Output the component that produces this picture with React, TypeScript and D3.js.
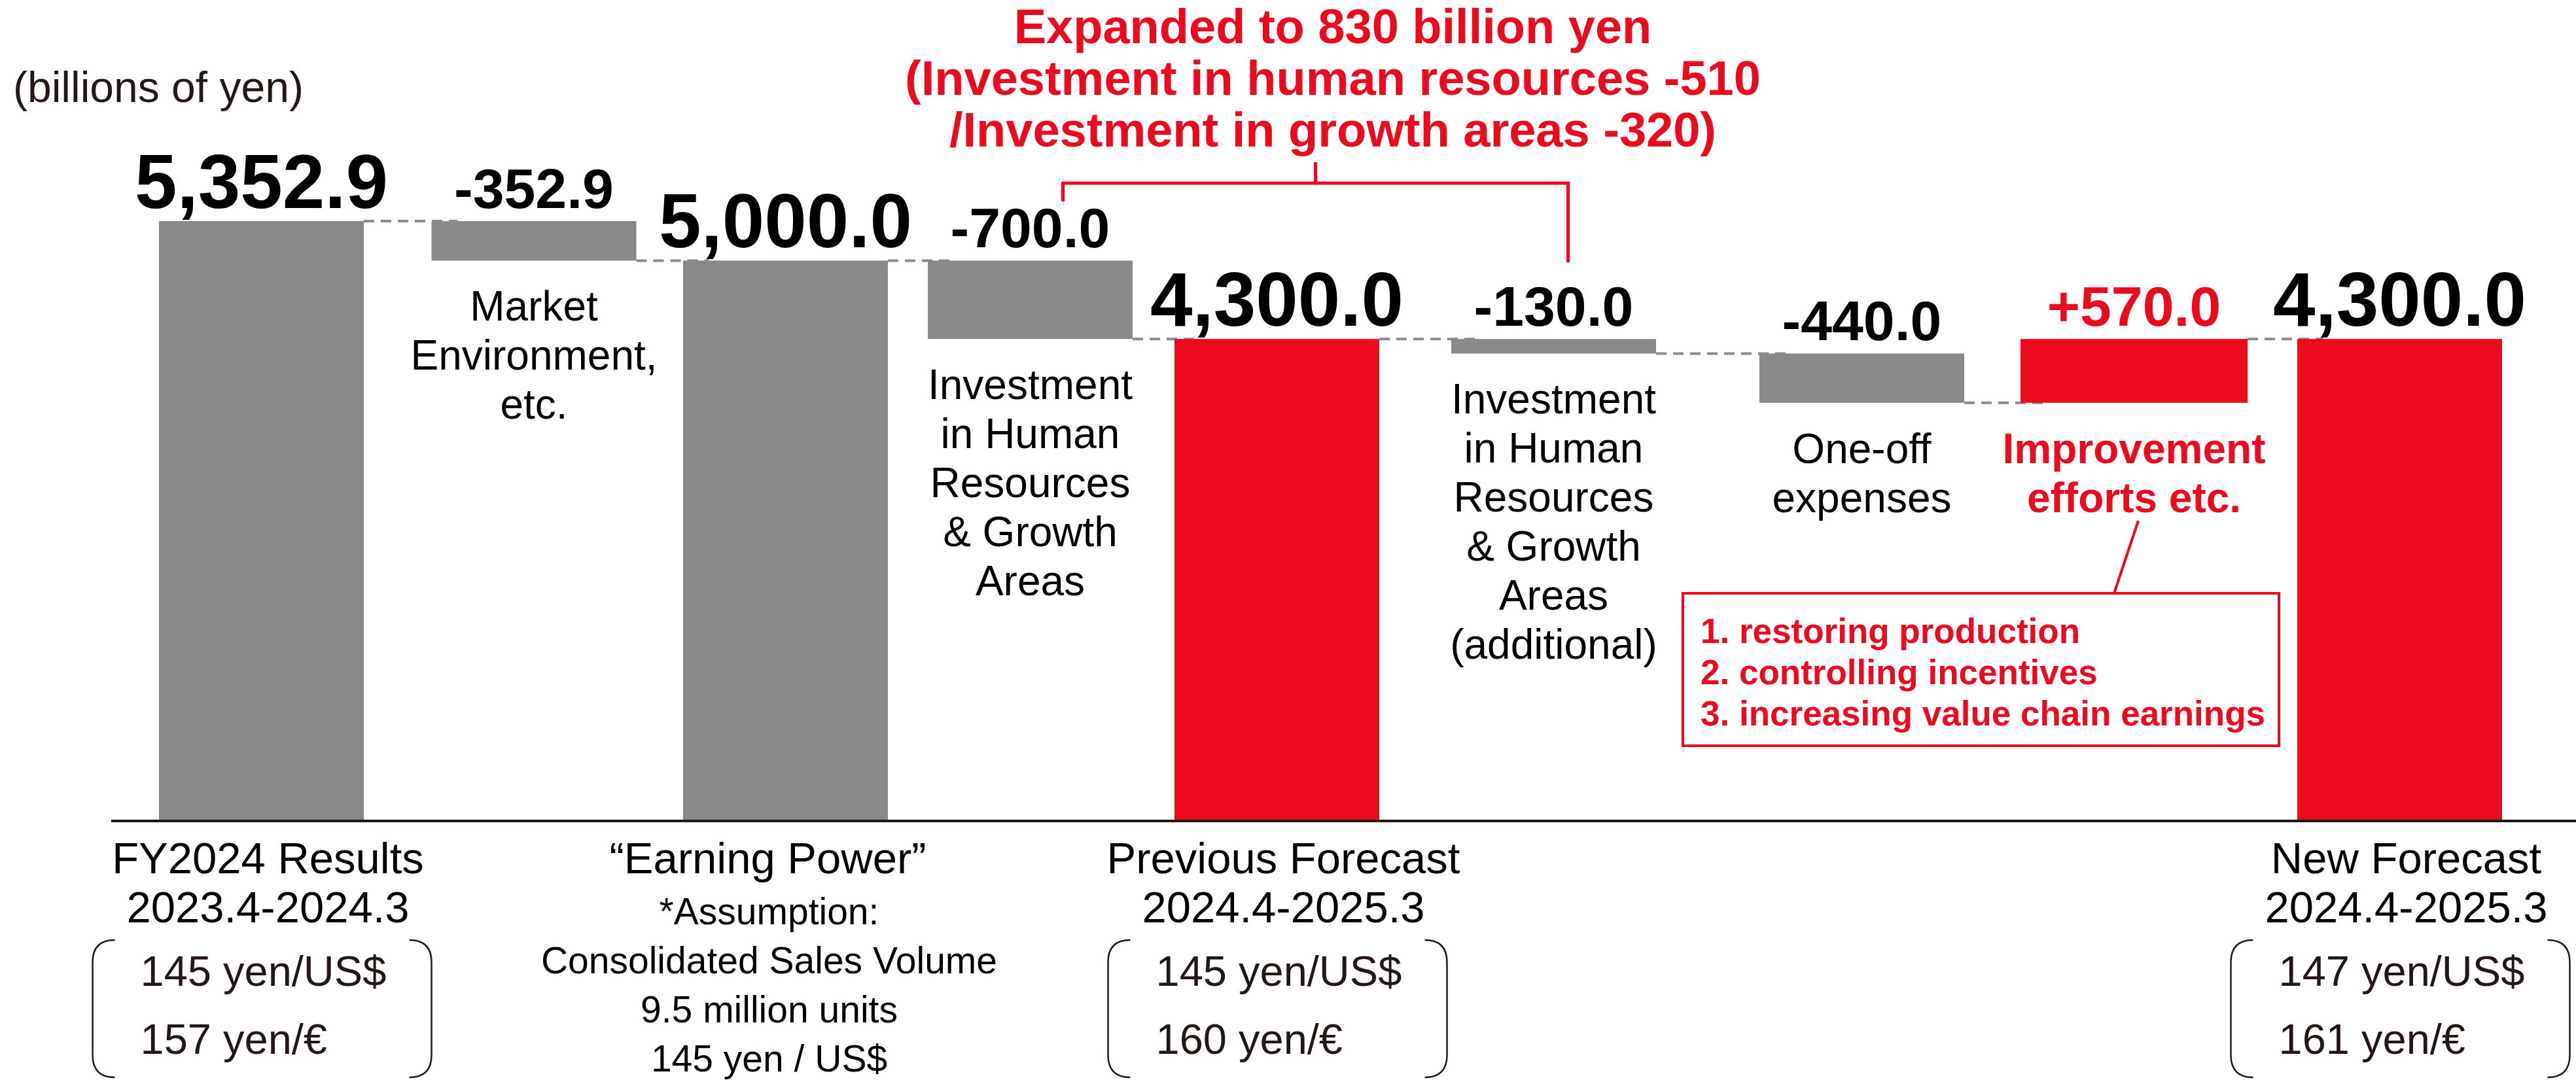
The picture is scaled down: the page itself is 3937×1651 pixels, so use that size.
import { useRef, useEffect } from "react";
import * as d3 from "d3";

// chart data
const categories = [
  "FY2024 Results",
  "Market Environment",
  "Earning Power",
  "HR & Growth",
  "Previous Forecast",
  "HR & Growth (additional)",
  "One-off expenses",
  "Improvement efforts",
  "New Forecast",
];
const values = [5352.9, -352.9, 5000.0, -700.0, 4300.0, -130.0, -440.0, 570.0, 4300.0];
const isTotal = [true, false, true, false, true, false, false, false, true];
const highlighted = [false, false, false, false, true, false, false, true, true];

const noteLines = [
  [],
  ["Market", "Environment,", "etc."],
  [],
  ["Investment", "in Human", "Resources", "& Growth", "Areas"],
  [],
  ["Investment", "in Human", "Resources", "& Growth", "Areas", "(additional)"],
  ["One-off", "expenses"],
  ["Improvement", "efforts etc."],
  [],
];
const periodTitles = [
  ["FY2024 Results", "2023.4-2024.3"],
  [],
  ["\u201cEarning Power\u201d"],
  [],
  ["Previous Forecast", "2024.4-2025.3"],
  [],
  [],
  [],
  ["New Forecast", "2024.4-2025.3"],
];
const assumptionLines = ["*Assumption:", "Consolidated Sales Volume", "9.5 million units", "145 yen / US$"];
const rateUsd = [145, null, null, null, 145, null, null, null, 147];
const rateEur = [157, null, null, null, 160, null, null, null, 161];
const headline = [
  "Expanded to 830 billion yen",
  "(Investment in human resources -510",
  "/Investment in growth areas -320)",
];
const improvementItems = [
  "1. restoring production",
  "2. controlling incentives",
  "3. increasing value chain earnings",
];
const unitLabel = "(billions of yen)";

// layout
const W = 3937;
const H = 1651;
const slotCenters = [399.5, 816, 1200.5, 1574.5, 1951.5, 2374.5, 2845.5, 3261.5, 3667.5];
const slotWidths = [313, 313, 313, 313, 313, 313, 313, 347, 313];
const RED = "#EB0A1E";
const GRAY = "#898989";
const INK = "#231815";
const FONT = "'Liberation Sans', Arial, sans-serif";

function App() {
  const svgRef = useRef<SVGSVGElement>(null);

  useEffect(() => {
    document.body.style.margin = "0";
    const svg = d3.select(svgRef.current);
    svg.selectAll("*").remove();
    svg.style("font-family", FONT);

    // running totals
    let run = 0;
    const steps = values.map((v, i) => {
      if (isTotal[i]) {
        run = v;
        return { start: 0, end: v };
      }
      const s = { start: run, end: run + v };
      run += v;
      return s;
    });

    const xScale = d3.scaleOrdinal<string, number>().domain(categories).range(slotCenters);
    const wScale = d3.scaleOrdinal<string, number>().domain(categories).range(slotWidths);
    const yScale = d3
      .scaleLinear()
      .domain([0, d3.max(steps, (d) => Math.max(d.start, d.end)) as number])
      .range([1254, 338]);

    const fmtTotal = d3.format(",.1f");
    const fmtDelta = d3.format("+,.1f");

    // unit label
    svg
      .append("text")
      .attr("x", 20)
      .attr("y", 156)
      .attr("font-size", 66)
      .attr("fill", INK)
      .text(unitLabel);

    // connectors
    steps.slice(0, -1).forEach((d, i) => {
      const a = categories[i];
      const b = categories[i + 1];
      svg
        .append("line")
        .attr("x1", xScale(a) + wScale(a) / 2)
        .attr("x2", xScale(b) - wScale(b) / 2 + 40)
        .attr("y1", yScale(d.end))
        .attr("y2", yScale(d.end))
        .attr("stroke", "#8c8c8c")
        .attr("stroke-width", 4)
        .attr("stroke-dasharray", "16 10");
    });

    // bars
    svg
      .selectAll("rect.bar")
      .data(steps)
      .enter()
      .append("rect")
      .attr("class", "bar")
      .attr("x", (d, i) => xScale(categories[i]) - wScale(categories[i]) / 2)
      .attr("width", (d, i) => wScale(categories[i]))
      .attr("y", (d) => yScale(Math.max(d.start, d.end)))
      .attr("height", (d) => Math.abs(yScale(d.start) - yScale(d.end)))
      .attr("fill", (d, i) => (highlighted[i] ? RED : GRAY));

    // value labels
    svg
      .selectAll("text.value")
      .data(steps)
      .enter()
      .append("text")
      .attr("class", "value")
      .attr("x", (d, i) => xScale(categories[i]))
      .attr("y", (d) => yScale(Math.max(d.start, d.end)) - 20)
      .attr("text-anchor", "middle")
      .attr("font-weight", "bold")
      .attr("font-size", (d, i) => (isTotal[i] ? 116 : 86))
      .attr("fill", (d, i) => (!isTotal[i] && highlighted[i] ? RED : "#000"))
      .text((d, i) => (isTotal[i] ? fmtTotal(values[i]) : fmtDelta(values[i]).replace("\u2212", "-")));

    // notes under the change bars
    steps.forEach((d, i) => {
      const lines = noteLines[i];
      if (!lines.length) return;
      const top = yScale(Math.min(d.start, d.end)) + 92;
      const t = svg
        .append("text")
        .attr("text-anchor", "middle")
        .attr("font-size", 64)
        .attr("font-weight", highlighted[i] ? "bold" : "normal")
        .attr("fill", highlighted[i] ? RED : "#000");
      lines.forEach((line, k) => {
        t.append("tspan")
          .attr("x", xScale(categories[i]))
          .attr("y", top + k * 75)
          .text(line);
      });
    });

    // axis line
    svg
      .append("line")
      .attr("x1", 170)
      .attr("x2", W)
      .attr("y1", 1255)
      .attr("y2", 1255)
      .attr("stroke", INK)
      .attr("stroke-width", 4);

    // period titles
    periodTitles.forEach((lines, i) => {
      const shift = i === 2 ? -27 : 10;
      lines.forEach((line, k) => {
        svg
          .append("text")
          .attr("x", xScale(categories[i]) + shift)
          .attr("y", 1335 + k * 75)
          .attr("text-anchor", "middle")
          .attr("font-size", 67)
          .attr("fill", "#000")
          .text(line);
      });
    });

    // earning power assumption
    assumptionLines.forEach((line, k) => {
      svg
        .append("text")
        .attr("x", xScale(categories[2]) - 25)
        .attr("y", 1413 + k * 75)
        .attr("text-anchor", "middle")
        .attr("font-size", 57)
        .attr("fill", "#000")
        .text(line);
    });

    // exchange-rate brackets
    const r = 34;
    rateUsd.forEach((usd, i) => {
      if (usd == null) return;
      const cx = xScale(categories[i]);
      const left = cx - 258;
      const right = cx + 260;
      const top = 1437;
      const bottom = 1647;
      const p = d3.path();
      p.moveTo(left + r, top);
      p.quadraticCurveTo(left, top, left, top + r);
      p.lineTo(left, bottom - r);
      p.quadraticCurveTo(left, bottom, left + r, bottom);
      p.moveTo(right - r, top);
      p.quadraticCurveTo(right, top, right, top + r);
      p.lineTo(right, bottom - r);
      p.quadraticCurveTo(right, bottom, right - r, bottom);
      svg
        .append("path")
        .attr("d", p.toString())
        .attr("fill", "none")
        .attr("stroke", INK)
        .attr("stroke-width", 2.5);
      svg
        .append("text")
        .attr("x", cx - 185)
        .attr("y", 1507)
        .attr("font-size", 65)
        .attr("fill", INK)
        .text(`${usd} yen/US$`);
      svg
        .append("text")
        .attr("x", cx - 185)
        .attr("y", 1611)
        .attr("font-size", 65)
        .attr("fill", INK)
        .text(`${rateEur[i]} yen/\u20ac`);
    });

    // headline and bracket
    headline.forEach((line, k) => {
      svg
        .append("text")
        .attr("x", 2037)
        .attr("y", 66 + k * 79)
        .attr("text-anchor", "middle")
        .attr("font-size", 74)
        .attr("font-weight", "bold")
        .attr("fill", RED)
        .text(line);
    });
    const bl = xScale(categories[3]) + 50;
    const br = xScale(categories[5]) + 22;
    const bm = (bl + br) / 2;
    const bracket = d3.path();
    bracket.moveTo(bl, 308);
    bracket.lineTo(bl, 280);
    bracket.lineTo(br, 280);
    bracket.lineTo(br, 401);
    bracket.moveTo(bm, 248);
    bracket.lineTo(bm, 280);
    svg
      .append("path")
      .attr("d", bracket.toString())
      .attr("fill", "none")
      .attr("stroke", RED)
      .attr("stroke-width", 5);

    // improvement callout
    svg
      .append("line")
      .attr("x1", 3268)
      .attr("y1", 796)
      .attr("x2", 3231)
      .attr("y2", 907)
      .attr("stroke", RED)
      .attr("stroke-width", 4);
    svg
      .append("rect")
      .attr("x", 2572)
      .attr("y", 907)
      .attr("width", 911)
      .attr("height", 233)
      .attr("fill", "#fff")
      .attr("stroke", RED)
      .attr("stroke-width", 4);
    improvementItems.forEach((line, k) => {
      svg
        .append("text")
        .attr("x", 2599)
        .attr("y", 983 + k * 63)
        .attr("font-size", 53)
        .attr("font-weight", "bold")
        .attr("fill", RED)
        .text(line);
    });
  }, []);

  return <svg ref={svgRef} width={W} height={H} style={{ display: "block", background: "#fff" }}></svg>;
}

export default App;
